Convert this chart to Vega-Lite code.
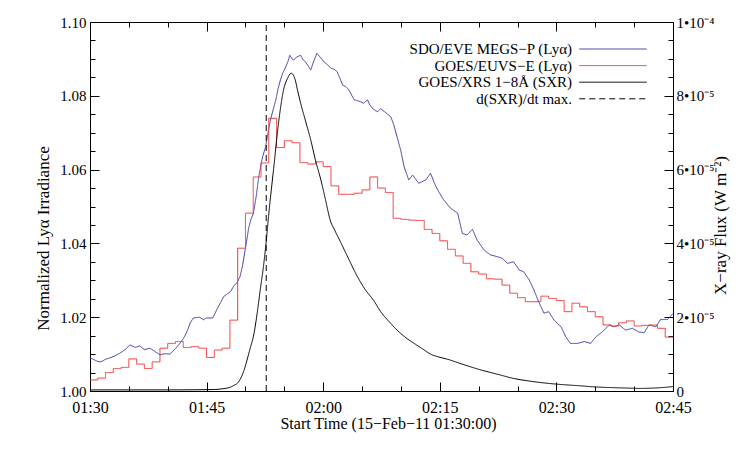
{
  "$schema": "https://vega.github.io/schema/vega-lite/v6.json",
  "autosize": "none",
  "width": 583,
  "height": 369,
  "padding": {"left": 90, "top": 22, "right": 74, "bottom": 58},
  "background": "white",
  "config": {
    "font": "Liberation Serif",
    "view": {"stroke": null},
    "axis": {
      "grid": false,
      "domainColor": "black",
      "tickColor": "black",
      "labelColor": "black",
      "titleColor": "black",
      "labelFont": "Liberation Serif",
      "titleFont": "Liberation Serif",
      "labelFontSize": 15,
      "titleFontSize": 16,
      "titleFontWeight": "normal"
    },
    "legend": {
      "labelFont": "Liberation Serif",
      "labelFontSize": 15,
      "labelColor": "black"
    }
  },
  "datasets": {
    "eve": [
      {"min": 0, "irr": 1.0090}, {"min": 0.5, "irr": 1.0085}, {"min": 1.0, "irr": 1.0080}, {"min": 1.4, "irr": 1.0079},
      {"min": 2.0, "irr": 1.0086}, {"min": 2.6, "irr": 1.0090}, {"min": 3.2, "irr": 1.0095}, {"min": 3.9, "irr": 1.0103},
      {"min": 4.5, "irr": 1.0112}, {"min": 5.15, "irr": 1.0125}, {"min": 5.8, "irr": 1.0118}, {"min": 6.4, "irr": 1.0122},
      {"min": 7.0, "irr": 1.0112}, {"min": 7.7, "irr": 1.0116}, {"min": 8.3, "irr": 1.0108}, {"min": 9.0, "irr": 1.0098},
      {"min": 9.6, "irr": 1.0101}, {"min": 10.3, "irr": 1.0100}, {"min": 11.0, "irr": 1.0115}, {"min": 11.6, "irr": 1.0130},
      {"min": 12.0, "irr": 1.0142}, {"min": 12.4, "irr": 1.0157}, {"min": 12.9, "irr": 1.0185}, {"min": 13.3, "irr": 1.0198},
      {"min": 14.1, "irr": 1.0200}, {"min": 14.6, "irr": 1.0193}, {"min": 15.0, "irr": 1.0198}, {"min": 15.8, "irr": 1.0198},
      {"min": 16.3, "irr": 1.0220}, {"min": 16.8, "irr": 1.0240}, {"min": 17.2, "irr": 1.0256}, {"min": 17.6, "irr": 1.0262},
      {"min": 18.1, "irr": 1.0270}, {"min": 18.5, "irr": 1.0285}, {"min": 18.9, "irr": 1.0293}, {"min": 19.3, "irr": 1.0310},
      {"min": 19.6, "irr": 1.0337}, {"min": 19.9, "irr": 1.0375}, {"min": 20.1, "irr": 1.0400}, {"min": 20.4, "irr": 1.0440},
      {"min": 20.7, "irr": 1.0465}, {"min": 21.0, "irr": 1.0480}, {"min": 21.4, "irr": 1.0530}, {"min": 21.7, "irr": 1.0580},
      {"min": 22.2, "irr": 1.0635}, {"min": 22.6, "irr": 1.0662}, {"min": 22.9, "irr": 1.0700}, {"min": 23.2, "irr": 1.0734},
      {"min": 23.6, "irr": 1.0765}, {"min": 23.9, "irr": 1.0789}, {"min": 24.2, "irr": 1.0820}, {"min": 24.5, "irr": 1.0843},
      {"min": 24.8, "irr": 1.0862}, {"min": 25.2, "irr": 1.0879}, {"min": 25.5, "irr": 1.0895}, {"min": 25.7, "irr": 1.0910},
      {"min": 26.0, "irr": 1.0900}, {"min": 26.2, "irr": 1.0897}, {"min": 26.6, "irr": 1.0905}, {"min": 27.1, "irr": 1.0910},
      {"min": 27.4, "irr": 1.0898}, {"min": 27.7, "irr": 1.0892}, {"min": 28.1, "irr": 1.0880}, {"min": 28.4, "irr": 1.0870},
      {"min": 28.8, "irr": 1.0895}, {"min": 29.2, "irr": 1.0915}, {"min": 29.6, "irr": 1.0905}, {"min": 30.1, "irr": 1.0892},
      {"min": 30.5, "irr": 1.0885}, {"min": 31.0, "irr": 1.0875}, {"min": 31.4, "irr": 1.0872}, {"min": 31.8, "irr": 1.0865},
      {"min": 32.2, "irr": 1.0845}, {"min": 32.5, "irr": 1.0829}, {"min": 32.9, "irr": 1.0825}, {"min": 33.3, "irr": 1.0816},
      {"min": 33.7, "irr": 1.0800}, {"min": 34.0, "irr": 1.0789}, {"min": 34.4, "irr": 1.0787}, {"min": 34.8, "irr": 1.0784},
      {"min": 35.2, "irr": 1.0780}, {"min": 35.7, "irr": 1.0789}, {"min": 36.0, "irr": 1.0775}, {"min": 36.3, "irr": 1.0767},
      {"min": 36.7, "irr": 1.0760}, {"min": 37.0, "irr": 1.0757}, {"min": 37.4, "irr": 1.0765}, {"min": 38.0, "irr": 1.0755},
      {"min": 38.7, "irr": 1.0743}, {"min": 39.1, "irr": 1.0720}, {"min": 39.5, "irr": 1.0689}, {"min": 40.0, "irr": 1.0650},
      {"min": 40.4, "irr": 1.0608}, {"min": 41.0, "irr": 1.0572}, {"min": 41.5, "irr": 1.0585}, {"min": 42.3, "irr": 1.0563},
      {"min": 43.2, "irr": 1.0572}, {"min": 43.8, "irr": 1.0590}, {"min": 44.5, "irr": 1.0554}, {"min": 45.0, "irr": 1.0535},
      {"min": 45.5, "irr": 1.0518}, {"min": 46.4, "irr": 1.0495}, {"min": 47.3, "irr": 1.0482}, {"min": 47.9, "irr": 1.0427},
      {"min": 48.5, "irr": 1.0423}, {"min": 49.2, "irr": 1.0438}, {"min": 49.8, "irr": 1.0409}, {"min": 50.7, "irr": 1.0382},
      {"min": 51.5, "irr": 1.0369}, {"min": 52.4, "irr": 1.0364}, {"min": 53.0, "irr": 1.0360}, {"min": 53.7, "irr": 1.0346},
      {"min": 54.5, "irr": 1.0350}, {"min": 55.2, "irr": 1.0328}, {"min": 55.8, "irr": 1.0323}, {"min": 56.5, "irr": 1.0301},
      {"min": 57.1, "irr": 1.0274}, {"min": 57.8, "irr": 1.0238}, {"min": 58.4, "irr": 1.0211}, {"min": 59.0, "irr": 1.0215},
      {"min": 59.7, "irr": 1.0192}, {"min": 60.6, "irr": 1.0174}, {"min": 61.2, "irr": 1.0147}, {"min": 61.8, "irr": 1.0129},
      {"min": 62.7, "irr": 1.0129}, {"min": 63.6, "irr": 1.0134}, {"min": 64.4, "irr": 1.0129}, {"min": 65.1, "irr": 1.0147},
      {"min": 65.9, "irr": 1.0160}, {"min": 66.8, "irr": 1.0179}, {"min": 67.4, "irr": 1.0174}, {"min": 68.1, "irr": 1.0179},
      {"min": 68.9, "irr": 1.0165}, {"min": 69.8, "irr": 1.0170}, {"min": 70.6, "irr": 1.0160}, {"min": 71.3, "irr": 1.0158},
      {"min": 71.9, "irr": 1.0179}, {"min": 72.8, "irr": 1.0174}, {"min": 73.4, "irr": 1.0194}, {"min": 74.3, "irr": 1.0194},
      {"min": 75.0, "irr": 1.0210}
    ],
    "euvs": [
      {"min": 0, "irr": 1.0030}, {"min": 1, "irr": 1.0035}, {"min": 2, "irr": 1.0050}, {"min": 3, "irr": 1.0061},
      {"min": 4, "irr": 1.0064}, {"min": 5, "irr": 1.0087}, {"min": 6, "irr": 1.0073}, {"min": 7, "irr": 1.0061},
      {"min": 8, "irr": 1.0079}, {"min": 9, "irr": 1.0116}, {"min": 10, "irr": 1.0129}, {"min": 11, "irr": 1.0134},
      {"min": 12, "irr": 1.0118}, {"min": 13, "irr": 1.0120}, {"min": 14, "irr": 1.0116}, {"min": 15, "irr": 1.0091},
      {"min": 16, "irr": 1.0111}, {"min": 17, "irr": 1.0116}, {"min": 18, "irr": 1.0192}, {"min": 19, "irr": 1.0387},
      {"min": 20, "irr": 1.0482}, {"min": 21, "irr": 1.0580}, {"min": 22, "irr": 1.0618}, {"min": 23, "irr": 1.0739},
      {"min": 24, "irr": 1.0660}, {"min": 25, "irr": 1.0678}, {"min": 26, "irr": 1.0673}, {"min": 27, "irr": 1.0619},
      {"min": 28, "irr": 1.0615}, {"min": 29, "irr": 1.0621}, {"min": 30, "irr": 1.0608}, {"min": 31, "irr": 1.0556},
      {"min": 32, "irr": 1.0533}, {"min": 33, "irr": 1.0533}, {"min": 34, "irr": 1.0536}, {"min": 35, "irr": 1.0545},
      {"min": 36, "irr": 1.0580}, {"min": 37, "irr": 1.0550}, {"min": 38, "irr": 1.0538}, {"min": 39, "irr": 1.0468},
      {"min": 40, "irr": 1.0465}, {"min": 41, "irr": 1.0463}, {"min": 42, "irr": 1.0462}, {"min": 43, "irr": 1.0438},
      {"min": 44, "irr": 1.0427}, {"min": 45, "irr": 1.0407}, {"min": 46, "irr": 1.0384}, {"min": 47, "irr": 1.0366},
      {"min": 48, "irr": 1.0346}, {"min": 49, "irr": 1.0323}, {"min": 50, "irr": 1.0317}, {"min": 51, "irr": 1.0304},
      {"min": 52, "irr": 1.0303}, {"min": 53, "irr": 1.0287}, {"min": 54, "irr": 1.0265}, {"min": 55, "irr": 1.0253},
      {"min": 56, "irr": 1.0242}, {"min": 57, "irr": 1.0242}, {"min": 58, "irr": 1.0257}, {"min": 59, "irr": 1.0251},
      {"min": 60, "irr": 1.0245}, {"min": 61, "irr": 1.0215}, {"min": 62, "irr": 1.0238}, {"min": 63, "irr": 1.0228},
      {"min": 64, "irr": 1.0215}, {"min": 65, "irr": 1.0201}, {"min": 66, "irr": 1.0179}, {"min": 67, "irr": 1.0176},
      {"min": 68, "irr": 1.0185}, {"min": 69, "irr": 1.0190}, {"min": 70, "irr": 1.0176}, {"min": 71, "irr": 1.0178},
      {"min": 72, "irr": 1.0179}, {"min": 73, "irr": 1.0170}, {"min": 74, "irr": 1.0146}, {"min": 75, "irr": 1.0146}
    ],
    "xrs": [
      {"min": 0, "flux": 0.0000003}, {"min": 10, "flux": 0.0000003}, {"min": 16, "flux": 0.0000004}, {"min": 17, "flux": 0.0000006},
      {"min": 18, "flux": 0.000001}, {"min": 18.5, "flux": 0.0000015}, {"min": 19, "flux": 0.0000022}, {"min": 19.4, "flux": 0.0000035},
      {"min": 19.8, "flux": 0.0000055}, {"min": 20.2, "flux": 0.0000084}, {"min": 20.6, "flux": 0.0000115}, {"min": 21.1, "flux": 0.0000156},
      {"min": 21.5, "flux": 0.000021}, {"min": 21.9, "flux": 0.0000274}, {"min": 22.3, "flux": 0.0000335}, {"min": 22.6, "flux": 0.0000391},
      {"min": 23.0, "flux": 0.000048}, {"min": 23.4, "flux": 0.000056}, {"min": 23.7, "flux": 0.0000617}, {"min": 24.0, "flux": 0.000068},
      {"min": 24.3, "flux": 0.0000734}, {"min": 24.6, "flux": 0.000078}, {"min": 24.9, "flux": 0.0000816}, {"min": 25.4, "flux": 0.0000847},
      {"min": 25.9, "flux": 0.0000861}, {"min": 26.4, "flux": 0.0000843}, {"min": 26.7, "flux": 0.0000815}, {"min": 27.1, "flux": 0.000078},
      {"min": 27.7, "flux": 0.0000734}, {"min": 28.4, "flux": 0.000068}, {"min": 29.0, "flux": 0.0000626}, {"min": 29.7, "flux": 0.0000572},
      {"min": 30.3, "flux": 0.0000518}, {"min": 30.9, "flux": 0.0000463}, {"min": 31.5, "flux": 0.0000435}, {"min": 32.2, "flux": 0.0000405},
      {"min": 33.0, "flux": 0.000037}, {"min": 34.4, "flux": 0.000031}, {"min": 35.4, "flux": 0.0000275}, {"min": 36.5, "flux": 0.0000245},
      {"min": 37.4, "flux": 0.0000215}, {"min": 38.7, "flux": 0.0000183}, {"min": 39.5, "flux": 0.0000165}, {"min": 40.6, "flux": 0.0000145},
      {"min": 41.7, "flux": 0.0000129}, {"min": 42.8, "flux": 0.0000114}, {"min": 43.8, "flux": 0.00001}, {"min": 44.9, "flux": 0.0000092},
      {"min": 46.0, "flux": 0.0000086}, {"min": 48.0, "flux": 0.0000072}, {"min": 50.3, "flux": 0.0000057}, {"min": 52.5, "flux": 0.0000045},
      {"min": 54.5, "flux": 0.0000034}, {"min": 56.5, "flux": 0.0000027}, {"min": 58.8, "flux": 0.0000021}, {"min": 61.0, "flux": 0.0000017},
      {"min": 63.1, "flux": 0.0000014}, {"min": 65.0, "flux": 0.0000011}, {"min": 67.4, "flux": 0.0000009}, {"min": 69.0, "flux": 0.0000008},
      {"min": 70.8, "flux": 0.0000007}, {"min": 72.5, "flux": 0.0000008}, {"min": 74.0, "flux": 0.000001}, {"min": 75.0, "flux": 0.0000012}
    ],
    "deriv": [{"min": 22.67}]
  },
  "resolve": {"scale": {"y": "independent"}, "axis": {"x": "independent", "y": "independent"}},
  "layer": [
    {
      "data": {"name": "eve"},
      "mark": {"type": "line", "strokeWidth": 1, "interpolate": "linear", "clip": true},
      "encoding": {
        "x": {"field": "min", "type": "quantitative", "scale": {"domain": [0, 75], "nice": false, "zero": false},
          "axis": {"orient": "bottom", "values": [0, 15, 30, 45, 60, 75], "tickSize": -9, "labelPadding": 17,
            "labelFontSize": 16, "titleFontSize": 16,
            "labelExpr": "timeFormat(datetime(2011, 1, 15, 1, 30 + datum.value), '%H:%M')",
            "title": "Start Time (15−Feb−11 01:30:00)", "titlePadding": 0, "titleX": 298, "labelFlush": false}},
        "y": {"field": "irr", "type": "quantitative", "scale": {"domain": [1.0, 1.1], "nice": false, "zero": false},
          "axis": {"orient": "left", "values": [1.0, 1.02, 1.04, 1.06, 1.08, 1.1], "format": ".2f", "tickSize": -9, "labelPadding": 13,
            "labelFontSize": 15, "titleFontSize": 17,
            "title": "Normalized Lyα Irradiance", "titleX": -47, "titleY": 216, "titleBaseline": "middle", "titleAngle": 270}},
        "color": {"datum": "SDO/EVE MEGS−P (Lyα)", "type": "nominal",
          "scale": {"domain": ["SDO/EVE MEGS−P (Lyα)", "GOES/EUVS−E (Lyα)", "GOES/XRS 1−8Å (SXR)", "d(SXR)/dt max."], "range": ["#3c3ca8", "#f03838", "#000000", "#000000"]},
          "legend": {"orient": "none", "legendX": 515, "legendY": 19, "title": null, "symbolType": "M-4.5,0H4.5", "symbolSize": 225, "symbolStrokeWidth": 1, "labelAlign": "right", "labelOffset": -49, "labelLimit": 0, "rowPadding": 0.6, "labelFont": "Liberation Serif", "labelFontSize": 15}},
        "strokeDash": {"datum": "SDO/EVE MEGS−P (Lyα)", "type": "nominal",
          "scale": {"domain": ["SDO/EVE MEGS−P (Lyα)", "GOES/EUVS−E (Lyα)", "GOES/XRS 1−8Å (SXR)", "d(SXR)/dt max."], "range": [[1, 0], [1, 0], [1, 0], [6, 4]]},
          "legend": {"orient": "none", "legendX": 515, "legendY": 19, "title": null, "symbolType": "M-4.5,0H4.5", "symbolSize": 225, "symbolStrokeWidth": 1, "labelAlign": "right", "labelOffset": -49, "labelLimit": 0, "rowPadding": 0.6, "labelFont": "Liberation Serif", "labelFontSize": 15}}
      }
    },
    {
      "data": {"name": "euvs"},
      "mark": {"type": "line", "strokeWidth": 1, "interpolate": "step-after", "clip": true},
      "encoding": {
        "x": {"field": "min", "type": "quantitative", "scale": {"domain": [0, 75], "nice": false, "zero": false},
          "axis": {"orient": "bottom", "values": [0, 5, 10, 15, 20, 25, 30, 35, 40, 45, 50, 55, 60, 65, 70, 75], "tickSize": -5, "labels": false, "domain": false, "title": null}},
        "y": {"field": "irr", "type": "quantitative", "scale": {"domain": [1.0, 1.1], "nice": false, "zero": false},
          "axis": {"orient": "left", "values": [1.0, 1.005, 1.01, 1.015, 1.02, 1.025, 1.03, 1.035, 1.04, 1.045, 1.05, 1.055, 1.06, 1.065, 1.07, 1.075, 1.08, 1.085, 1.09, 1.095, 1.1], "tickSize": -5, "labels": false, "domain": false, "title": null}},
        "color": {"datum": "GOES/EUVS−E (Lyα)", "type": "nominal"},
        "strokeDash": {"datum": "GOES/EUVS−E (Lyα)", "type": "nominal"}
      }
    },
    {
      "data": {"name": "xrs"},
      "mark": {"type": "line", "strokeWidth": 1, "interpolate": "monotone", "clip": true},
      "encoding": {
        "x": {"field": "min", "type": "quantitative", "scale": {"domain": [0, 75], "nice": false, "zero": false},
          "axis": {"orient": "top", "values": [0, 15, 30, 45, 60, 75], "tickSize": -9, "labels": false, "title": null}},
        "y": {"field": "flux", "type": "quantitative", "scale": {"domain": [0, 0.0001], "nice": false, "zero": false},
          "axis": {"orient": "right", "values": [0, 0.00002, 0.00004, 0.00006, 0.00008, 0.0001], "tickSize": -9, "labelPadding": 12,
            "labelFontSize": 15, "titleFontSize": 17,
            "labelExpr": "datum.value == 0 ? '0' : (datum.value > 0.000099 ? '1•10⁻⁴' : format(datum.value * 100000, 'd') + '•10⁻⁵')",
            "title": "X−ray Flux (W m⁻²)", "titleAngle": 270, "titleBaseline": "middle", "titleX": 47, "titleY": 203}},
        "color": {"datum": "GOES/XRS 1−8Å (SXR)", "type": "nominal"},
        "strokeDash": {"datum": "GOES/XRS 1−8Å (SXR)", "type": "nominal"}
      }
    },
    {
      "data": {"name": "deriv"},
      "mark": {"type": "rule", "strokeWidth": 1},
      "encoding": {
        "x": {"field": "min", "type": "quantitative", "scale": {"domain": [0, 75], "nice": false, "zero": false},
          "axis": {"orient": "top", "values": [0, 5, 10, 15, 20, 25, 30, 35, 40, 45, 50, 55, 60, 65, 70, 75], "tickSize": -5, "labels": false, "domain": false, "title": null}},
        "y": {"datum": 0, "type": "quantitative", "scale": {"domain": [0, 0.0001], "nice": false, "zero": false},
          "axis": {"orient": "right", "values": [0, 0.000005, 0.00001, 0.000015, 0.00002, 0.000025, 0.00003, 0.000035, 0.00004, 0.000045, 0.00005, 0.000055, 0.00006, 0.000065, 0.00007, 0.000075, 0.00008, 0.000085, 0.00009, 0.000095, 0.0001], "tickSize": -5, "labels": false, "domain": false, "title": null}},
        "y2": {"datum": 0.0001},
        "color": {"datum": "d(SXR)/dt max.", "type": "nominal"},
        "strokeDash": {"datum": "d(SXR)/dt max.", "type": "nominal"}
      }
    }
  ]
}
